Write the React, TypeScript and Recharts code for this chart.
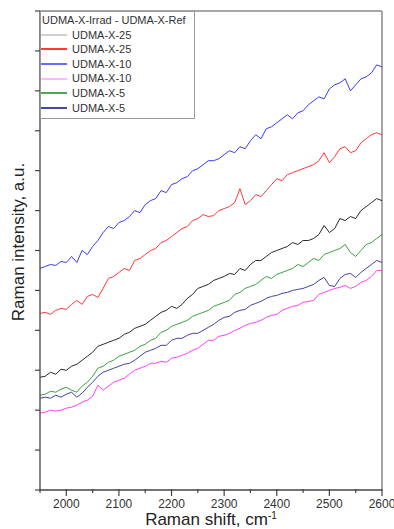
import React from 'react';
import { LineChart, Line, XAxis, YAxis, ReferenceLine } from 'recharts';

const shifts = [
    1950, 1960, 1970, 1980, 1990, 2000, 2010, 2020, 2030, 2040, 2050,
    2060, 2070, 2080, 2090, 2100, 2110, 2120, 2130, 2140, 2150,
    2160, 2170, 2180, 2190, 2200, 2210, 2220, 2230, 2240, 2250,
    2260, 2270, 2280, 2290, 2300, 2310, 2320, 2330, 2340, 2350,
    2360, 2370, 2380, 2390, 2400, 2410, 2420, 2430, 2440, 2450,
    2460, 2470, 2480, 2490, 2500, 2510, 2520, 2530, 2540, 2550,
    2560, 2570, 2580, 2590, 2600,
];

// UDMA-X-25 (black)
const x25a = [
    113, 114, 118, 116, 121, 120, 124, 126, 130, 134, 138,
    144, 146, 148, 150, 152, 156, 158, 162, 164, 166,
    170, 174, 178, 180, 184, 182, 186, 192, 196, 202,
    204, 206, 210, 212, 214, 217, 216, 222, 220, 226,
    230, 230, 234, 238, 240, 242, 244, 248, 246, 250,
    250, 252, 256, 265, 258, 262, 272, 270, 274, 272,
    280, 284, 288, 292, 290,
];

// UDMA-X-25 (red)
const x25b = [
    177, 178, 176, 180, 182, 181, 186, 190, 186, 194, 196,
    193, 202, 212, 214, 218, 222, 220, 230, 232, 236,
    240, 242, 248, 250, 254, 258, 262, 264, 270, 272,
    276, 274, 275, 280, 282, 284, 288, 302, 286, 290,
    296, 294, 300, 306, 312, 310, 316, 318, 320, 322,
    324, 326, 330, 338, 328, 334, 342, 344, 338, 340,
    348, 352, 356, 358, 356,
];

// UDMA-X-10 (blue)
const x10a = [
    222, 224, 226, 225, 229, 228, 234, 228, 240, 236, 244,
    250, 258, 264, 262, 268, 270, 274, 280, 278, 286,
    290, 292, 300, 298, 306, 308, 312, 314, 320, 322,
    326, 330, 330, 332, 336, 340, 338, 344, 342, 350,
    356, 352, 362, 364, 368, 372, 376, 372, 378, 380,
    386, 390, 394, 392, 402, 406, 408, 412, 400, 406,
    412, 414, 418, 426, 424,
];

// UDMA-X-10 (magenta)
const x10b = [
    77, 78, 80, 79, 80, 82, 83, 85, 88, 90, 94,
    105, 100, 104, 108, 110, 112, 116, 120, 122, 124,
    127, 127, 129, 128, 132, 133, 135, 137, 140, 142,
    146, 150, 150, 154, 155, 157, 160, 162, 165, 167,
    168, 170, 173, 175, 176, 180, 182, 184, 185, 188,
    189, 190, 196, 198, 200, 202, 203, 205, 202, 204,
    208, 210, 214, 220, 220,
];

// UDMA-X-5 (green)
const x5a = [
    95, 96, 99, 98, 101, 103, 100, 98, 104, 108, 114,
    122, 124, 128, 130, 134, 136, 138, 140, 144, 146,
    150, 152, 158, 160, 164, 166, 168, 170, 174, 176,
    178, 180, 184, 186, 188, 190, 196, 198, 202, 204,
    206, 210, 214, 212, 216, 218, 220, 222, 226, 224,
    228, 232, 230, 236, 238, 240, 242, 246, 238, 234,
    240, 246, 248, 252, 256,
];

// UDMA-X-5 (navy)
const x5b = [
    92, 93, 92, 95, 93, 96, 98, 93, 97, 103, 108,
    114, 118, 120, 122, 124, 126, 127, 130, 134, 138,
    140, 142, 145, 145, 150, 152, 152, 155, 157, 157,
    160, 163, 166, 170, 173, 174, 178, 180, 181, 185,
    187, 189, 192, 194, 195, 197, 198, 200, 201, 202,
    204, 206, 210, 213, 205, 204, 212, 216, 217, 213,
    218, 222, 226, 230, 228,
];

const xTicks = [1950, 2000, 2050, 2100, 2150, 2200, 2250, 2300, 2350, 2400, 2450, 2500, 2550, 2600];
const yTicks = [0, 40, 80, 120, 160, 200, 240, 280, 320, 360, 400, 440, 480];

const series = [
    { key: 'x25a', name: 'UDMA-X-25', values: x25a, color: '#111111', legendColor: '#cfcfcf' },
    { key: 'x25b', name: 'UDMA-X-25', values: x25b, color: '#ff2020', legendColor: '#ff3a3a' },
    { key: 'x10a', name: 'UDMA-X-10', values: x10a, color: '#2424ff', legendColor: '#6a6aff' },
    { key: 'x10b', name: 'UDMA-X-10', values: x10b, color: '#ff28ff', legendColor: '#ffb8ff' },
    { key: 'x5a', name: 'UDMA-X-5', values: x5a, color: '#22962a', legendColor: '#4fa84f' },
    { key: 'x5b', name: 'UDMA-X-5', values: x5b, color: '#2c2c94', legendColor: '#4848a0' },
];

const data = shifts.map((s, i) => {
    const row: any = { shift: s };
    series.forEach((sr) => { row[sr.key] = sr.values[i]; });
    return row;
});

const FONT = '"Liberation Sans", Arial, Helvetica, sans-serif';

const XTick = ({ x, y, payload }: any) => {
    const major = payload.value % 100 === 0;
    return (
        <g>
            <line x1={x} y1={y - 1} x2={x} y2={y + (major ? 6 : 3)} stroke="#444" strokeWidth={1.2} />
            {major && (
                <text x={x} y={y + 18} textAnchor="middle" fontSize={12} fill="#333" fontFamily={FONT}>
                    {payload.value}
                </text>
            )}
        </g>
    );
};

const YTick = ({ x, y }: any) => (
    <line x1={x - 5} y1={y} x2={x} y2={y} stroke="#444" strokeWidth={1.2} />
);

const XLabel = ({ viewBox }: any) => (
    <text x={viewBox.x + viewBox.width / 2} y={525} textAnchor="middle" fontSize={17} fill="#222" fontFamily={FONT}>
        Raman shift, cm
        <tspan dy={-6} fontSize={10}>-1</tspan>
    </text>
);

const YLabel = () => (
    <text x={24} y={242} transform="rotate(-90, 24, 242)" textAnchor="middle" fontSize={17} fill="#222" fontFamily={FONT}>
        Raman intensity, a.u.
    </text>
);

const LegendBox = () => (
    <div
        style={{
            position: 'absolute',
            left: 40,
            top: 11,
            border: '1px solid #999',
            background: '#fff',
            width: 155,
            fontFamily: FONT,
            fontSize: 11,
            color: '#333',
            lineHeight: '14.6px',
            paddingBottom: 3,
            boxSizing: 'border-box',
        }}
    >
        <div style={{ paddingLeft: 1, paddingTop: 1 }}>UDMA-X-Irrad - UDMA-X-Ref</div>
        {series.map((s) => (
            <div key={s.key} style={{ display: 'flex', alignItems: 'center' }}>
                <span style={{ display: 'inline-block', width: 26, height: 2, background: s.legendColor, marginRight: 5 }} />
                <span>{s.name}</span>
            </div>
        ))}
    </div>
);

const App: React.FC = () => {
    return (
        <div style={{ position: 'absolute', left: 0, top: 0, width: 394, height: 529, background: '#fff' }}>
            <LineChart width={394} height={529} data={data} margin={{ top: 11, right: 12, left: 0, bottom: 0 }}>
                <XAxis
                    dataKey="shift"
                    type="number"
                    domain={[1950, 2600]}
                    ticks={xTicks}
                    interval={0}
                    height={39}
                    tickSize={0}
                    tickMargin={0}
                    tickLine={false}
                    axisLine={{ stroke: '#444', strokeWidth: 1.3 }}
                    tick={<XTick />}
                    label={<XLabel />}
                    allowDataOverflow
                />
                <YAxis
                    type="number"
                    domain={[0, 480]}
                    ticks={yTicks}
                    interval={0}
                    width={40}
                    tickSize={0}
                    tickMargin={0}
                    tickLine={false}
                    axisLine={{ stroke: '#444', strokeWidth: 1.3 }}
                    tick={<YTick />}
                    label={<YLabel />}
                    allowDataOverflow
                />
                <ReferenceLine y={480} stroke="#8a8a8a" strokeWidth={1.5} />
                <ReferenceLine x={2600} stroke="#8a8a8a" strokeWidth={1.5} />
                {series.map((s) => (
                    <Line
                        key={s.key}
                        dataKey={s.key}
                        name={s.name}
                        stroke={s.color}
                        strokeWidth={0.9}
                        dot={false}
                        type="linear"
                        isAnimationActive={false}
                    />
                ))}
            </LineChart>
            <LegendBox />
        </div>
    );
};

export default App;
